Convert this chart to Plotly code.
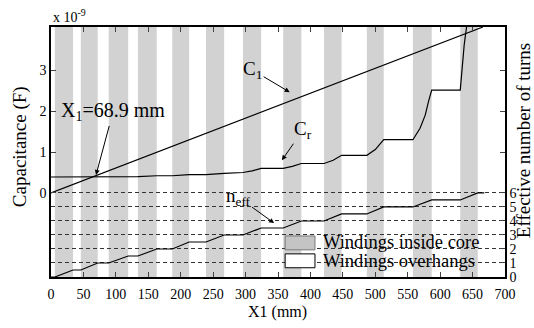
import plotly.graph_objects as go

# ---- data ----
band_start = [6, 46, 89, 134, 187, 239, 296, 358, 421, 487, 558, 631]
band_end = [34, 72, 119, 163, 213, 267, 324, 386, 448, 513, 587, 658]

c1_x = [0, 666]
c1_y = [0, 4.05]  # x 1e-9 F

cr_x = [0, 6, 34, 46, 72, 89, 119, 134, 163, 187, 213, 239, 267, 296, 310, 324,
        358, 372, 386, 421, 435, 448, 487, 500, 513, 558, 569, 577, 582, 587,
        631, 633, 635, 637, 639, 641, 643]
cr_y = [0.39, 0.39, 0.39, 0.39, 0.395, 0.395, 0.40, 0.40, 0.42, 0.42, 0.45, 0.45,
        0.48, 0.50, 0.54, 0.60, 0.60, 0.65, 0.72, 0.72, 0.80, 0.92, 0.92, 1.06,
        1.30, 1.30, 1.58, 1.90, 2.23, 2.51, 2.51, 2.90, 3.30, 3.60, 3.85, 4.05, 4.30]

neff_x = [0, 6, 34, 46, 72, 89, 119, 134, 163, 187, 213, 239, 267, 296, 324,
          358, 386, 421, 448, 487, 513, 558, 587, 631, 658, 668]
neff_y = [0, 0, 0.5, 0.5, 1, 1, 1.5, 1.5, 2, 2, 2.5, 2.5, 3, 3, 3.5,
          3.5, 4, 4, 4.5, 4.5, 5, 5, 5.5, 5.5, 6, 6]

x_ticks = list(range(0, 701, 50))
cap_ticks = [0, 1, 2, 3]
turn_ticks = [0, 1, 2, 3, 4, 5, 6]
legend_labels = ["Windings inside core", "Windings overhangs"]

FONT = "Liberation Serif"
BAND_FILL = "#d2d2d2"

fig = go.Figure()

fig.add_trace(go.Scatter(x=c1_x, y=c1_y, mode="lines",
                         line=dict(color="black", width=1.2), showlegend=False))
fig.add_trace(go.Scatter(x=cr_x, y=cr_y, mode="lines",
                         line=dict(color="black", width=1.2), showlegend=False))
fig.add_trace(go.Scatter(x=neff_x, y=neff_y, mode="lines", yaxis="y2",
                         line=dict(color="black", width=1.2), showlegend=False))

shapes = []
for s, e in zip(band_start, band_end):
    shapes.append(dict(type="rect", xref="x", yref="paper", x0=s, x1=e, y0=0, y1=1,
                       fillcolor=BAND_FILL, line=dict(width=0), layer="below"))

# manual legend boxes
shapes.append(dict(type="rect", xref="x", yref="y2", x0=361, x1=407, y0=1.94, y1=2.93,
                   fillcolor="#c4c4c4", line=dict(color="#777777", width=1), layer="above"))
shapes.append(dict(type="rect", xref="x", yref="y2", x0=361, x1=407, y0=0.66, y1=1.65,
                   fillcolor="white", line=dict(color="black", width=1), layer="above"))

ann = []
ann.append(dict(x=416, y=2.49, xref="x", yref="y2", text=legend_labels[0], showarrow=False,
                xanchor="left", yanchor="middle", font=dict(family=FONT, size=18.5, color="black")))
ann.append(dict(x=416, y=1.13, xref="x", yref="y2", text=legend_labels[1], showarrow=False,
                xanchor="left", yanchor="middle", font=dict(family=FONT, size=18.5, color="black")))

arrow_common = dict(showarrow=True, arrowhead=2, arrowsize=1, arrowwidth=1,
                    arrowcolor="black", font=dict(family=FONT, size=19, color="black"))
ann.append(dict(x=368, y=2.46, xref="x", yref="y", text="C<sub>1</sub>", ax=-37, ay=-22, **arrow_common))
ann.append(dict(x=356, y=0.80, xref="x", yref="y", text="C<sub>r</sub>", ax=21, ay=-30, **arrow_common))
ann.append(dict(x=344, y=3.85, xref="x", yref="y2", text="n<sub>eff</sub>", ax=-36, ay=-26, **arrow_common))
ax_common = dict(arrow_common)
ax_common["font"] = dict(family=FONT, size=20, color="black")
ann.append(dict(x=69.4, y=0.44, xref="x", yref="y", text="X<sub>1</sub>=68.9 mm", ax=17, ay=-63, **ax_common))

ann.append(dict(x=0, y=1.0, xref="paper", yref="paper", text="x 10<sup>-9</sup>", showarrow=False,
                xanchor="left", yanchor="bottom", yshift=0, font=dict(family=FONT, size=14, color="black")))
ann.append(dict(x=-0.068, y=0.52, xref="paper", yref="paper", text="Capacitance (F)", showarrow=False,
                textangle=-90, xanchor="center", yanchor="middle", font=dict(family=FONT, size=19, color="black")))
ann.append(dict(x=1.04, y=0.544, xref="paper", yref="paper", text="Effective number of turns", showarrow=False,
                textangle=-90, xanchor="center", yanchor="middle", font=dict(family=FONT, size=19, color="black")))
ann.append(dict(x=0.498, y=-0.14, xref="paper", yref="paper", text="X1 (mm)", showarrow=False,
                xanchor="center", yanchor="middle", font=dict(family=FONT, size=16, color="black")))

fig.update_layout(
    width=534, height=328,
    margin=dict(l=51, r=29, t=27, b=51, autoexpand=False),
    paper_bgcolor="white", plot_bgcolor="white",
    showlegend=False,
    shapes=shapes, annotations=ann,
    font=dict(family=FONT, size=14, color="black"),
    xaxis=dict(range=[0, 700], tickvals=x_ticks, ticks="inside", ticklen=5,
               showline=True, linecolor="black", linewidth=1.5, mirror="ticks",
               showgrid=False, zeroline=False, tickfont=dict(family=FONT, size=14),
               ticklabelstandoff=3, automargin=False),
    yaxis=dict(range=[-2.05, 4.05], tickvals=cap_ticks, ticks="inside", ticklen=5,
               showline=True, linecolor="black", linewidth=1.5, mirror="ticks",
               showgrid=False, zeroline=False, tickfont=dict(family=FONT, size=14),
               automargin=False),
    yaxis2=dict(range=[0, 17.85], overlaying="y", side="right", tickvals=turn_ticks,
                ticks="inside", ticklen=5, showline=True, linecolor="black", linewidth=1.5,
                showgrid=True, gridcolor="#333333", gridwidth=1, griddash="4px,3px",
                zeroline=False, tickfont=dict(family=FONT, size=14), ticklabelstandoff=0,
                automargin=False),
)

# remove the default page margin so the 534x328 figure fills the window exactly
fig.write_html("out.html", config={"displayModeBar": False},
               post_script="document.body.style.margin='0';document.documentElement.style.overflow='hidden';")
